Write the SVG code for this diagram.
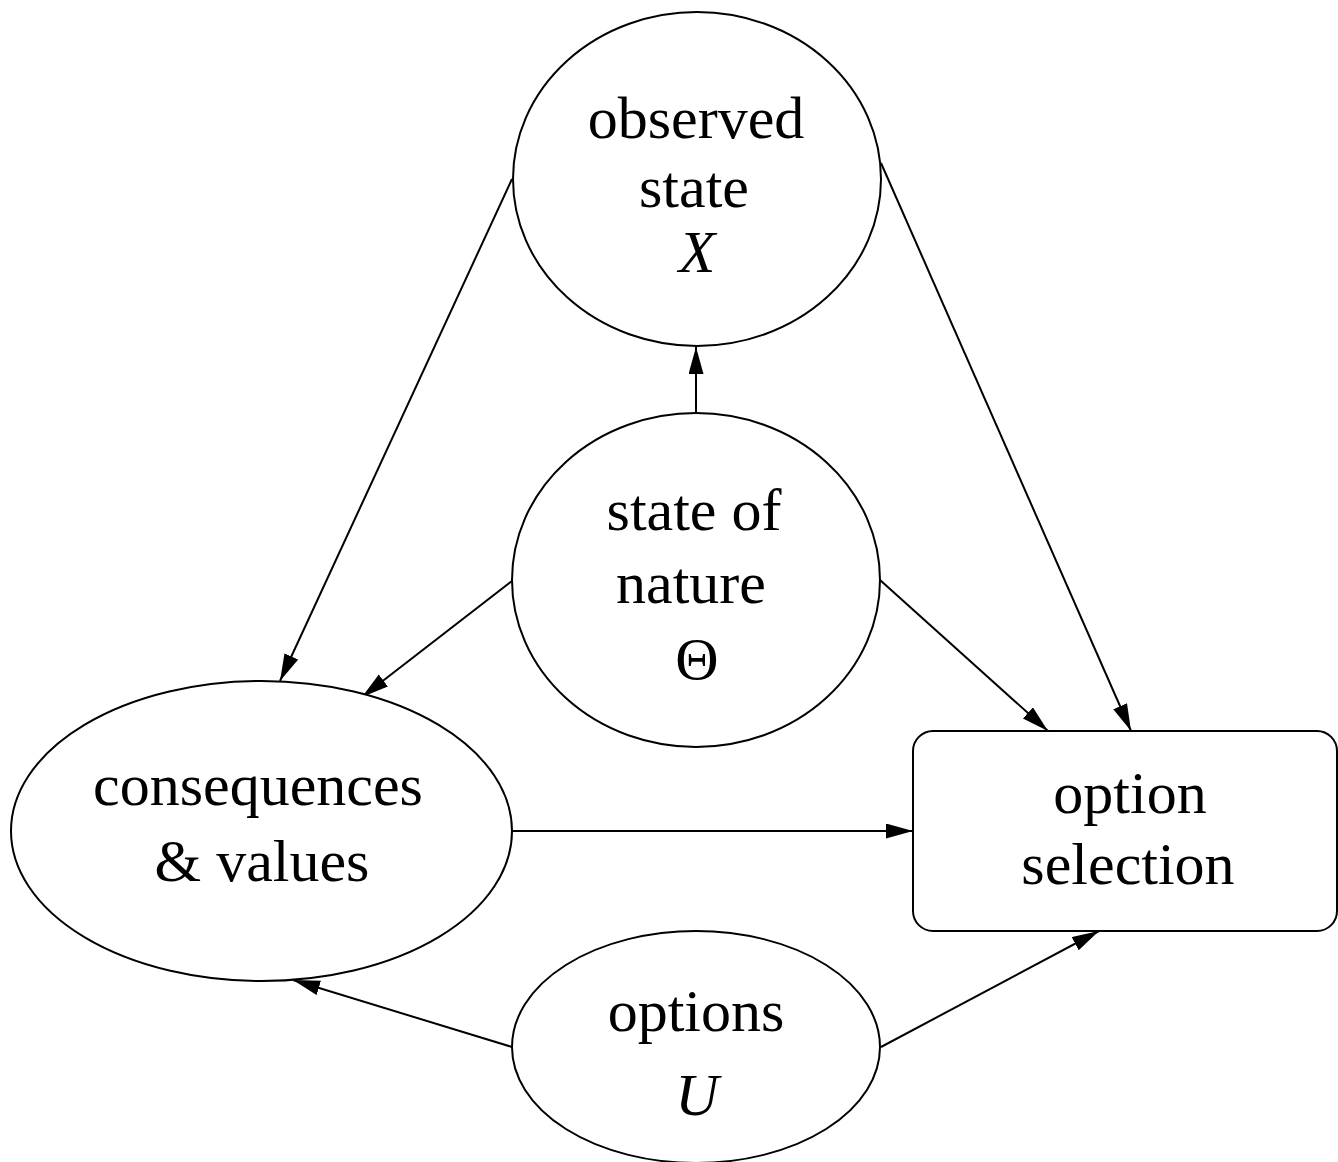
<svg xmlns="http://www.w3.org/2000/svg" width="1338" height="1162" viewBox="0 0 1338 1162">
  <style>
    .node { fill: #ffffff; stroke: #000000; stroke-width: 2; }
    .edge { fill: none; stroke: #000000; stroke-width: 2; marker-end: url(#arrow); }
    .label { font-family: "Liberation Serif", "Times New Roman", serif; font-size: 60px; fill: #000000; text-anchor: middle; }
    .var { font-style: italic; }
  </style>
  <defs>
    <marker id="arrow" markerWidth="28" markerHeight="16" refX="27" refY="7.5" orient="auto" markerUnits="userSpaceOnUse">
      <path d="M0,0 L27,7.5 L0,15 z" fill="#000000"/>
    </marker>
  </defs>
  <rect width="1338" height="1162" fill="#ffffff"/>

  <!-- connectors -->
  <g id="edges">
    <line class="edge" x1="696" y1="413" x2="696" y2="347"/>
    <line class="edge" x1="512" y1="179" x2="280" y2="681"/>
    <line class="edge" x1="512" y1="581" x2="362" y2="697"/>
    <line class="edge" x1="881" y1="163" x2="1131" y2="731"/>
    <line class="edge" x1="880" y1="580" x2="1048" y2="731"/>
    <line class="edge" x1="512" y1="831" x2="913" y2="831"/>
    <line class="edge" x1="512" y1="1047" x2="293" y2="980"/>
    <line class="edge" x1="881" y1="1047" x2="1099" y2="931"/>
  </g>

  <!-- observed state X -->
  <g id="observed-state">
    <ellipse class="node" cx="697" cy="179" rx="184" ry="167"/>
    <text class="label" x="696" y="138">observed</text>
    <text class="label" x="694" y="207">state</text>
    <text class="label var" x="697" y="272">X</text>
  </g>

  <!-- state of nature Θ -->
  <g id="state-of-nature">
    <ellipse class="node" cx="696" cy="580" rx="184" ry="167"/>
    <text class="label" x="694" y="530">state of</text>
    <text class="label" x="691" y="603">nature</text>
    <text class="label" x="697" y="679">Θ</text>
  </g>

  <!-- consequences & values -->
  <g id="consequences">
    <ellipse class="node" cx="261.5" cy="831" rx="250.5" ry="150"/>
    <text class="label" x="258" y="805">consequences</text>
    <text class="label" x="262" y="881">&amp; values</text>
  </g>

  <!-- option selection -->
  <g id="option-selection">
    <rect class="node" x="913" y="731" width="424" height="200" rx="20" ry="20"/>
    <text class="label" x="1130" y="813">option</text>
    <text class="label" x="1128" y="884">selection</text>
  </g>

  <!-- options U -->
  <g id="options">
    <ellipse class="node" cx="696" cy="1047" rx="184" ry="116"/>
    <text class="label" x="696" y="1031">options</text>
    <text class="label var" x="697" y="1115">U</text>
  </g>
</svg>
